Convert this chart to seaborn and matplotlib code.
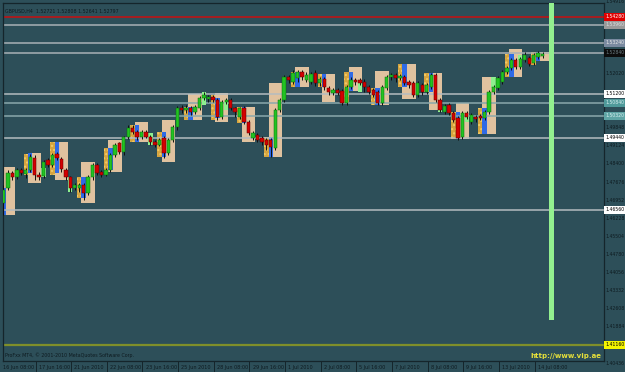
import numpy as np
import pandas as pd
import matplotlib
matplotlib.use("Agg")
import matplotlib.pyplot as plt
import seaborn as sns
from matplotlib.transforms import blended_transform_factory

# ---------------- data ----------------
title_text = "GBPUSD,H4  1.52721 1.52808 1.52641 1.52797"
copyright_text = "ProFxx MT4, \u00a9 2001-2010 MetaQuotes Software Corp."
url_text = "http://www.vip.ae"

opens = [1.4684, 1.4744, 1.4804, 1.4788, 1.4816, 1.4800, 1.4816, 1.4864, 1.4796, 1.4792,
         1.4856, 1.4836, 1.4880, 1.4860, 1.4816, 1.4788, 1.4744, 1.4744, 1.4756, 1.4724,
         1.4788, 1.4836, 1.4808, 1.4796, 1.4816, 1.4876, 1.4924, 1.4888, 1.4948, 1.4984,
         1.4968, 1.4948, 1.4968, 1.4948, 1.4928, 1.4916, 1.4944, 1.4884, 1.4936, 1.4988,
         1.5064, 1.5056, 1.5064, 1.5048, 1.5064, 1.5104, 1.5100, 1.5108, 1.5096, 1.5028,
         1.5088, 1.5096, 1.5064, 1.5028, 1.5064, 1.5008, 1.4944, 1.4956, 1.4944, 1.4936,
         1.4936, 1.4904, 1.5056, 1.5096, 1.5188, 1.5168, 1.5184, 1.5208, 1.5176, 1.5168,
         1.5204, 1.5164, 1.5180, 1.5144, 1.5124, 1.5136, 1.5132, 1.5084, 1.5148, 1.5176,
         1.5176, 1.5168, 1.5148, 1.5136, 1.5128, 1.5084, 1.5144, 1.5188, 1.5196, 1.5184,
         1.5188, 1.5168, 1.5164, 1.5116, 1.5156, 1.5128, 1.5148, 1.5196, 1.5096, 1.5048,
         1.5076, 1.5044, 1.5024, 1.4948, 1.5044, 1.5008, 1.5028, 1.5032, 1.5024, 1.5048,
         1.5128, 1.5144, 1.5168, 1.5208, 1.5224, 1.5256, 1.5228, 1.5256, 1.5264, 1.5244,
         1.5268, 1.5272]
closes = [1.4736, 1.4804, 1.4788, 1.4816, 1.4804, 1.4816, 1.4868, 1.4796, 1.4788, 1.4848,
          1.4836, 1.4876, 1.4864, 1.4820, 1.4788, 1.4744, 1.4756, 1.4756, 1.4724, 1.4788,
          1.4836, 1.4804, 1.4796, 1.4816, 1.4876, 1.4916, 1.4888, 1.4948, 1.4984, 1.4968,
          1.4948, 1.4968, 1.4948, 1.4928, 1.4916, 1.4936, 1.4884, 1.4936, 1.4988, 1.5064,
          1.5056, 1.5064, 1.5048, 1.5068, 1.5104, 1.5116, 1.5108, 1.5096, 1.5028, 1.5088,
          1.5096, 1.5064, 1.5048, 1.5064, 1.5008, 1.4964, 1.4964, 1.4936, 1.4928, 1.4916,
          1.4908, 1.5056, 1.5096, 1.5188, 1.5176, 1.5204, 1.5208, 1.5188, 1.5196, 1.5200,
          1.5164, 1.5180, 1.5148, 1.5128, 1.5136, 1.5124, 1.5084, 1.5148, 1.5176, 1.5168,
          1.5164, 1.5148, 1.5128, 1.5116, 1.5084, 1.5148, 1.5188, 1.5196, 1.5184, 1.5192,
          1.5164, 1.5156, 1.5116, 1.5164, 1.5128, 1.5156, 1.5196, 1.5096, 1.5056, 1.5072,
          1.5044, 1.5016, 1.4944, 1.5044, 1.5028, 1.5036, 1.5020, 1.5024, 1.5048, 1.5128,
          1.5148, 1.5184, 1.5208, 1.5224, 1.5256, 1.5228, 1.5260, 1.5276, 1.5240, 1.5276,
          1.5284, 1.5280]
highs = [1.4756, 1.4816, 1.4812, 1.4824, 1.4824, 1.4824, 1.4880, 1.4876, 1.4808, 1.4856,
         1.4864, 1.4884, 1.4888, 1.4868, 1.4824, 1.4792, 1.4764, 1.4764, 1.4764, 1.4796,
         1.4844, 1.4844, 1.4816, 1.4824, 1.4884, 1.4924, 1.4928, 1.4952, 1.4996, 1.4996,
         1.4976, 1.4976, 1.4976, 1.4956, 1.4936, 1.4944, 1.4952, 1.4944, 1.4996, 1.5072,
         1.5076, 1.5076, 1.5072, 1.5076, 1.5112, 1.5128, 1.5116, 1.5116, 1.5104, 1.5096,
         1.5104, 1.5104, 1.5068, 1.5068, 1.5072, 1.5016, 1.4972, 1.4964, 1.4952, 1.4944,
         1.4944, 1.5064, 1.5104, 1.5196, 1.5196, 1.5216, 1.5216, 1.5216, 1.5208, 1.5208,
         1.5216, 1.5188, 1.5188, 1.5152, 1.5144, 1.5144, 1.5140, 1.5156, 1.5188, 1.5184,
         1.5184, 1.5180, 1.5156, 1.5144, 1.5136, 1.5156, 1.5196, 1.5204, 1.5204, 1.5200,
         1.5196, 1.5176, 1.5172, 1.5172, 1.5164, 1.5164, 1.5204, 1.5204, 1.5104, 1.5080,
         1.5084, 1.5052, 1.5032, 1.5052, 1.5052, 1.5044, 1.5036, 1.5040, 1.5056, 1.5136,
         1.5156, 1.5192, 1.5216, 1.5232, 1.5264, 1.5264, 1.5268, 1.5288, 1.5272, 1.5284,
         1.5292, 1.5288]
lows = [1.4636, 1.4736, 1.4776, 1.4780, 1.4796, 1.4784, 1.4808, 1.4776, 1.4776, 1.4784,
        1.4828, 1.4828, 1.4856, 1.4808, 1.4776, 1.4728, 1.4736, 1.4728, 1.4696, 1.4716,
        1.4776, 1.4796, 1.4788, 1.4792, 1.4808, 1.4868, 1.4880, 1.4876, 1.4940, 1.4960,
        1.4936, 1.4940, 1.4944, 1.4916, 1.4908, 1.4912, 1.4864, 1.4876, 1.4928, 1.4976,
        1.5044, 1.5044, 1.5036, 1.5040, 1.5056, 1.5096, 1.5088, 1.5088, 1.5016, 1.5020,
        1.5080, 1.5056, 1.5028, 1.5020, 1.5000, 1.4956, 1.4936, 1.4928, 1.4916, 1.4896,
        1.4868, 1.4896, 1.5048, 1.5088, 1.5164, 1.5160, 1.5168, 1.5176, 1.5168, 1.5160,
        1.5152, 1.5152, 1.5136, 1.5116, 1.5116, 1.5116, 1.5076, 1.5076, 1.5140, 1.5156,
        1.5156, 1.5128, 1.5120, 1.5108, 1.5076, 1.5076, 1.5136, 1.5176, 1.5168, 1.5176,
        1.5156, 1.5144, 1.5108, 1.5108, 1.5116, 1.5120, 1.5140, 1.5088, 1.5048, 1.5040,
        1.5036, 1.5008, 1.4936, 1.4940, 1.5020, 1.5000, 1.5008, 1.5016, 1.5016, 1.5040,
        1.5120, 1.5136, 1.5160, 1.5200, 1.5216, 1.5220, 1.5220, 1.5248, 1.5232, 1.5236,
        1.5260, 1.5264]

# daily session boxes (start bar, box range, pre-session orange bar, first-bar blue)
box_start = [0, 6, 12, 18, 24, 30, 36, 42, 48, 54, 60, 66, 72, 78, 84, 90, 96, 102, 108, 114, 120]
box_hi = [1.4828, 1.4884, 1.4928, 1.4848, 1.4936, 1.5008, 1.5016, 1.5120, 1.5124, 1.5068, 1.5164,
          1.5228, 1.5200, 1.5228, 1.5212, 1.5240, 1.5204, 1.5084, 1.5188, 1.5300, 1.5288]
box_lo = [1.4636, 1.4764, 1.4776, 1.4684, 1.4808, 1.4928, 1.4848, 1.5016, 1.5008, 1.4928, 1.4868,
          1.5148, 1.5088, 1.5132, 1.5076, 1.5100, 1.5056, 1.4940, 1.4960, 1.5188, 1.5252]
orange_hi = [np.nan, 1.4880, 1.4928, 1.4788, 1.4904, 1.4996, 1.4968, 1.5068, 1.5116, 1.5068, 1.4948,
             1.5208, 1.5200, 1.5208, 1.5144, 1.5240, 1.5204, 1.5048, 1.5064, 1.5280, 1.5288]
orange_lo = [np.nan, 1.4796, 1.4796, 1.4704, 1.4816, 1.4928, 1.4868, 1.5016, 1.5016, 1.5004, 1.4868,
             1.5148, 1.5148, 1.5084, 1.5076, 1.5148, 1.5128, 1.4940, 1.4960, 1.5188, 1.5236]
blue_hi = [1.4744, 1.4884, 1.4928, 1.4788, 1.4904, 1.4996, 1.4968, 1.5068, 1.5104, 1.5068, 1.4948,
           1.5208, 1.5200, 1.5208, 1.5144, 1.5240, 1.5204, 1.5048, 1.5064, 1.5280, 1.5288]
blue_lo = [1.4636, 1.4804, 1.4804, 1.4704, 1.4816, 1.4928, 1.4868, 1.5016, 1.5024, 1.5004, 1.4868,
           1.5148, 1.5148, 1.5132, 1.5076, 1.5148, 1.5128, 1.4940, 1.4960, 1.5188, 1.5252]

# light green session bars
light_idx = [3, 9, 15, 33, 45, 50, 63, 69, 74, 80, 98, 104, 110, 116]
light_hi = [1.4816, 1.4824, 1.4788, 1.4964, 1.5128, 1.5088, 1.5188, 1.5200, 1.5136, 1.5168,
            1.5076, 1.5036, 1.5188, 1.5276]
light_lo = [1.4788, 1.4788, 1.4728, 1.4916, 1.5076, 1.5056, 1.5096, 1.5168, 1.5124, 1.5128,
            1.5048, 1.5008, 1.5144, 1.5256]

# horizontal price levels
level_prices = [1.5428, 1.5396, 1.5324, 1.5284, 1.5120, 1.5084, 1.5032, 1.4944, 1.4656, 1.4116]
level_line_colors = ['#c81010', '#a9b1b6', '#a9b1b6', '#a9b1b6', '#b4bcc0', '#8aa8ac',
                     '#8aa8ac', '#b4bcc0', '#b4bcc0', '#7f8f2a']
level_label_bg = ['#e00000', '#9a9a9a', '#7a8aa0', '#0c0c0c', '#ffffff', '#4f9a9a',
                  '#5fa5a5', '#ffffff', '#ffffff', '#f4f400']
level_label_fg = ['#ffffff', '#dddddd', '#e8e8e8', '#6a7a80', '#000000', '#d8f0f0',
                  '#d8f0f0', '#000000', '#000000', '#000000']

price_ticks = [1.40436, 1.41160, 1.41884, 1.42608, 1.43332, 1.44056, 1.44780, 1.45504,
               1.46228, 1.46952, 1.47676, 1.48400, 1.49124, 1.49848, 1.50572, 1.51296,
               1.52020, 1.52744, 1.53468, 1.54192, 1.54916]

date_bars = [0, 8, 16, 24, 32, 40, 48, 56, 64, 72, 80, 88, 96, 104, 112, 120]
date_labels = ["16 Jun 08:00", "17 Jun 16:00", "21 Jun 2010", "22 Jun 08:00", "23 Jun 16:00",
               "25 Jun 2010", "28 Jun 08:00", "29 Jun 16:00", "1 Jul 2010", "2 Jul 08:00",
               "5 Jul 16:00", "7 Jul 2010", "8 Jul 08:00", "9 Jul 16:00", "13 Jul 2010",
               "14 Jul 08:00"]

marker_bar = 123.05
marker_top = 1.5484
marker_bottom = 1.4216

# ---------------- drawing ----------------
df = pd.DataFrame({"open": opens, "high": highs, "low": lows, "close": closes})
df["bar"] = np.arange(len(df))
df["up"] = df["close"] >= df["open"]

sns.set_theme(style="dark")
plt.rcParams['font.family'] = ['DejaVu Sans']

BG = '#2d4f59'
DARK = '#0e1b20'
fig = plt.figure(figsize=(6.25, 3.72), dpi=100, facecolor=BG)
ax = fig.add_axes([3 / 625, 11 / 372, 601 / 625, 358 / 372])
ax.set_facecolor(BG)
ax.set_xlim(-0.11, 134.8)
ax.set_ylim(1.4052, 1.5484)
ax.grid(False)
ax.set_xticks([])
ax.set_yticks([])
for s in ax.spines.values():
    s.set_color('#15252b')
    s.set_linewidth(0.9)

# session boxes
bs = np.array(box_start)
ax.bar(bs + 1, np.array(box_hi) - np.array(box_lo), bottom=box_lo, width=3,
       color='#e0c29f', edgecolor='none', zorder=1)
ax.bar(bs - 1, np.array(orange_hi) - np.array(orange_lo), bottom=orange_lo, width=1,
       color='#d6a43e', edgecolor='#f2cc6a', hatch='....', linewidth=0, zorder=1.5)
ax.bar(bs, np.array(blue_hi) - np.array(blue_lo), bottom=blue_lo, width=1,
       color='#2f6ae6', edgecolor='none', zorder=1.5)

# levels
for p, c in zip(level_prices, level_line_colors):
    lw = 1.6 if c == '#7f8f2a' else 1.1
    ax.axhline(p, color=c, lw=lw, zorder=2)

# light bars
ax.bar(light_idx, np.array(light_hi) - np.array(light_lo), bottom=light_lo, width=0.95,
       color='#8ef08e', edgecolor='none', zorder=2.5)

# candles
ax.vlines(df["bar"], df["low"], df["high"], color='#101010', lw=0.7, zorder=3)
body_lo = np.minimum(df["open"], df["close"])
body_h = np.maximum(np.abs(df["close"] - df["open"]), 0.0002)
ax.bar(df["bar"], body_h, bottom=body_lo, width=0.74,
       color=np.where(df["up"], '#22c322', '#d40000'),
       edgecolor=np.where(df["up"], '#0b6a0b', '#5a0000'), linewidth=0.35, zorder=4)

# current bar marker
ax.bar([marker_bar], [marker_top - marker_bottom], bottom=marker_bottom, width=1.15,
       color='#93f08f', edgecolor='none', zorder=5)

# right price scale
tr = blended_transform_factory(ax.transAxes, ax.transData)
for t in price_ticks:
    if min(abs(t - p) for p in level_prices) < 0.0026:
        continue
    ax.text(1.003, t, f"{t:.5f}", transform=tr, ha='left', va='center', fontsize=3.3,
            color=DARK, clip_on=False, zorder=6)
for p, bg, fg in zip(level_prices, level_label_bg, level_label_fg):
    ax.text(1.003, p, f"{p:.5f}", transform=tr, ha='left', va='center', fontsize=3.3,
            color=fg, clip_on=False, zorder=7,
            bbox=dict(boxstyle='square,pad=0.3', fc=bg, ec='none'))

# date scale
trx = blended_transform_factory(ax.transData, ax.transAxes)
for b, lab in zip(date_bars, date_labels):
    if b > 0:
        ax.plot([b - 0.8, b - 0.8], [0, -11 / 358], transform=trx, color='#15252b',
                lw=0.7, clip_on=False)
    ax.text(b - 0.1, -0.01, lab, transform=trx, ha='left', va='top', fontsize=3.5,
            color=DARK, clip_on=False)

# texts
ax.text(0.003, 0.985, title_text, transform=ax.transAxes, ha='left', va='top',
        fontsize=3.4, color=DARK)
ax.text(0.004, 0.008, copyright_text, transform=ax.transAxes, ha='left', va='bottom',
        fontsize=3.4, color=DARK)
ax.text(0.996, 0.006, url_text, transform=ax.transAxes, ha='right', va='bottom',
        fontsize=5.0, color='#e6e03a', fontweight='bold')

fig.savefig("out.png", dpi=100, facecolor=BG)
